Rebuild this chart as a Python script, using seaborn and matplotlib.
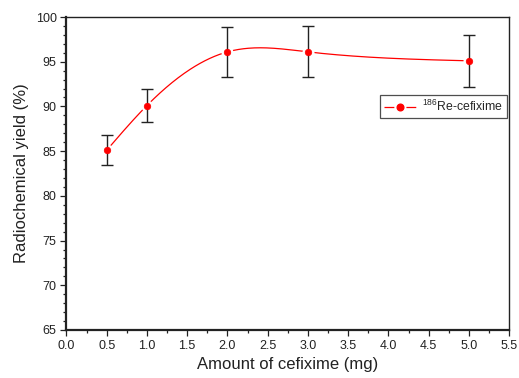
import numpy as np
import pandas as pd
import matplotlib
matplotlib.use("Agg")
import matplotlib.pyplot as plt
import seaborn as sns
from matplotlib.ticker import MultipleLocator
from matplotlib.lines import Line2D

amount_mg = [0.5, 1.0, 2.0, 3.0, 5.0]
yield_pct = [85.1, 90.1, 96.1, 96.1, 95.1]
yield_err = [1.7, 1.8, 2.8, 2.85, 2.9]
series_name = r"$^{186}$Re-cefixime"

sns.set_theme(style="ticks")
plt.rcParams['font.family'] = ['Liberation Sans', 'DejaVu Sans']
plt.rcParams['mathtext.fontset'] = 'custom'
plt.rcParams['mathtext.rm'] = 'Liberation Sans'

def natural_spline(x, y, xs):
    x = np.asarray(x, float); y = np.asarray(y, float)
    n = len(x)
    h = np.diff(x)
    A = np.zeros((n, n)); b = np.zeros(n)
    A[0, 0] = 1; A[-1, -1] = 1
    for i in range(1, n - 1):
        A[i, i - 1] = h[i - 1]; A[i, i] = 2 * (h[i - 1] + h[i]); A[i, i + 1] = h[i]
        b[i] = 3 * ((y[i + 1] - y[i]) / h[i] - (y[i] - y[i - 1]) / h[i - 1])
    c = np.linalg.solve(A, b)
    out = np.empty_like(xs)
    for k, xv in enumerate(xs):
        i = min(np.searchsorted(x, xv) - 1, n - 2); i = max(i, 0)
        dx = xv - x[i]
        bb = (y[i + 1] - y[i]) / h[i] - h[i] * (2 * c[i] + c[i + 1]) / 3
        d = (c[i + 1] - c[i]) / (3 * h[i])
        out[k] = y[i] + bb * dx + c[i] * dx ** 2 + d * dx ** 3
    return out

xs = np.linspace(min(amount_mg), max(amount_mg), 300)
curve = pd.DataFrame({"x": xs, "y": natural_spline(amount_mg, yield_pct, xs)})
df = pd.DataFrame({"x": amount_mg, "y": yield_pct, "err": yield_err})

fig = plt.figure(figsize=(5.19, 3.78), dpi=100)
ax = fig.add_axes([0.128, 0.127, 0.853, 0.828])

sns.lineplot(data=curve, x="x", y="y", ax=ax, color="red", linewidth=0.9, zorder=2)
# white halo so the curve stops short of each marker
sns.scatterplot(data=df, x="x", y="y", ax=ax, color="white", s=75,
                edgecolor="white", linewidth=0, zorder=2.5)
ax.errorbar(df["x"], df["y"], yerr=df["err"], fmt="none", ecolor="#222222",
            elinewidth=1.0, capsize=4.5, capthick=1.0, zorder=3)
sns.scatterplot(data=df, x="x", y="y", ax=ax, color="red", s=22,
                edgecolor="red", linewidth=0.5, zorder=4)

ax.set_xlim(0, 5.5)
ax.set_ylim(65, 100)
ax.xaxis.set_minor_locator(MultipleLocator(0.25))
ax.yaxis.set_major_locator(MultipleLocator(5))
ax.yaxis.set_minor_locator(MultipleLocator(1))
ax.set_xticks(np.arange(0, 5.51, 0.5))
ax.set_xticklabels([f"{v:.1f}" for v in np.arange(0, 5.51, 0.5)])
ax.tick_params(which="major", direction="out", length=4, width=0.9, labelsize=9,
               colors="#222222", labelcolor="#222222", pad=3)
ax.tick_params(which="minor", direction="out", length=2, width=0.9, colors="#222222")
for s in ax.spines.values():
    s.set_visible(True)
    s.set_linewidth(1.0)
    s.set_color("#222222")
ax.spines["bottom"].set_linewidth(1.6)
ax.spines["left"].set_linewidth(1.6)

ax.set_xlabel("Amount of cefixime (mg)", fontsize=12, color="#222222", labelpad=4)
ax.set_ylabel("Radiochemical yield (%)", fontsize=12, color="#222222", labelpad=5)

fs = 8.8
hlen = 2.6
lw = 0.9
total = hlen * fs
seg = total * 0.31
gap = total * 0.38
line_h = Line2D([], [], color="red", linewidth=lw,
                linestyle=(0, (seg / lw, gap / lw)))
mark_h = Line2D([], [], color="red", marker="o", markersize=4.8, linestyle="none")
leg = ax.legend([(line_h, mark_h)], [series_name], loc="upper right",
                bbox_to_anchor=(0.996, 0.752), fontsize=fs, frameon=True,
                fancybox=False, edgecolor="#222222", handlelength=hlen,
                borderpad=0.35, handletextpad=0.5, borderaxespad=0)
leg.get_frame().set_linewidth(0.9)

fig.savefig("out.png", dpi=100)
